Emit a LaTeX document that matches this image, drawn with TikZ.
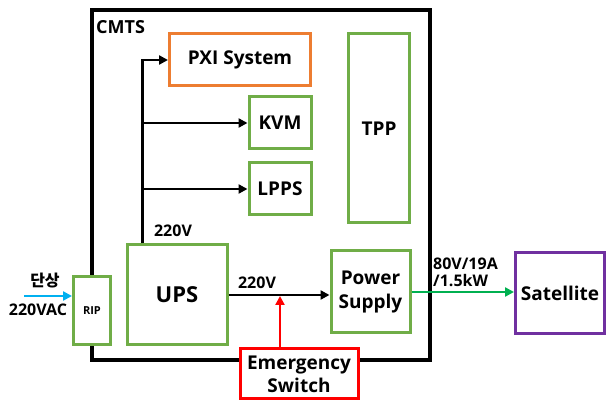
\documentclass[tikz,border=0pt]{standalone}
\usepackage{fontspec}
\setmainfont{Open Sans}
\newfontfamily\kr{Noto Sans CJK KR}
\usetikzlibrary{arrows.meta}
\definecolor{cgreen}{HTML}{70AD47}
\definecolor{corange}{HTML}{ED7D31}
\definecolor{cpurple}{HTML}{7030A0}
\definecolor{cred}{HTML}{FF0000}
\definecolor{ccyan}{HTML}{00B0F0}
\definecolor{cgarrow}{HTML}{00B050}
\tikzset{
  blk/.style={draw=#1, line width=3pt, fill=white, inner sep=0pt, align=center, font=\bfseries\fontsize{19}{24}\selectfont},
  conn/.style={line width=2.6pt, -{Triangle[length=9pt,width=9pt]}},
  lbl/.style={inner sep=0pt, font=\bfseries\fontsize{16}{19}\selectfont},
}
\begin{document}
\begin{tikzpicture}[x=1pt,y=-1pt]
\useasboundingbox (0,0) rectangle (606,403);
% outer CMTS box
\node[draw=black, line width=3.2pt, minimum width=338pt, minimum height=350pt, inner sep=0pt] (cmts) at (261,185) {};
\node[lbl, anchor=west, font=\bfseries\fontsize{18}{21}\selectfont] (cmtslbl) at (96,27) {CMTS};
% blocks
\node[blk=corange, minimum width=141pt, minimum height=52pt] (pxi) at (240,60) {PXI System};
\node[blk=cgreen, minimum width=62pt, minimum height=52pt] (kvm) at (280,123) {KVM};
\node[blk=cgreen, minimum width=62pt, minimum height=52pt] (lpps) at (280,189) {LPPS};
\node[blk=cgreen, minimum width=61pt, minimum height=189pt] (tpp) at (379,128.5) {TPP};
\node[blk=cgreen, minimum width=100pt, minimum height=100pt, font=\bfseries\fontsize{22}{26}\selectfont] (ups) at (177,295) {UPS};
\node[blk=cgreen, minimum width=37pt, minimum height=68pt, font=\bfseries\fontsize{11}{13}\selectfont] (rip) at (92,311) {RIP};
\node[blk=cgreen, minimum width=79pt, minimum height=82pt] (ps) at (370.5,292) {Power\\Supply};
\node[blk=cred, minimum width=118pt, minimum height=50pt, font=\bfseries\fontsize{19}{23}\selectfont] (es) at (299,374) {Emergency\\Switch};
\node[blk=cpurple, minimum width=89pt, minimum height=81pt] (sat) at (560,293.5) {Satellite};
% trunk from UPS
\coordinate (trunk) at ([xshift=17pt]ups.north west);
\draw[conn] (trunk) |- (pxi.west);
\draw[conn] (trunk |- kvm.west) -- (kvm.west);
\draw[conn] (trunk |- lpps.west) -- (lpps.west);
\node[lbl] (v1) at (173,231) {220V};
% UPS to power supply
\draw[conn] (ups.east) -- (ups.east -| ps.west);
\node[lbl] (v2) at (257,283) {220V};
% emergency switch
\coordinate (esx) at ([xshift=-19pt]es.north);
\draw[conn, draw=cred, fill=cred, shorten >=1pt] (esx) -- (esx |- ups.east);
% output
\draw[conn, draw=cgarrow, fill=cgarrow] (ps.east) -- (ps.east -| sat.west);
\node[lbl, anchor=west, align=left] (outlbl) at (433,272) {80V/19A\\[-2pt]/1.5kW};
% input
\coordinate (in) at (24,296);
\draw[conn, draw=ccyan, fill=ccyan] (in) -- (in -| rip.west);
\node[lbl, font=\kr\bfseries\fontsize{16}{19}\selectfont] (dan) at (45,281) {단상};
\node[lbl] (vac) at (38,310) {220VAC};
\end{tikzpicture}
\end{document}
